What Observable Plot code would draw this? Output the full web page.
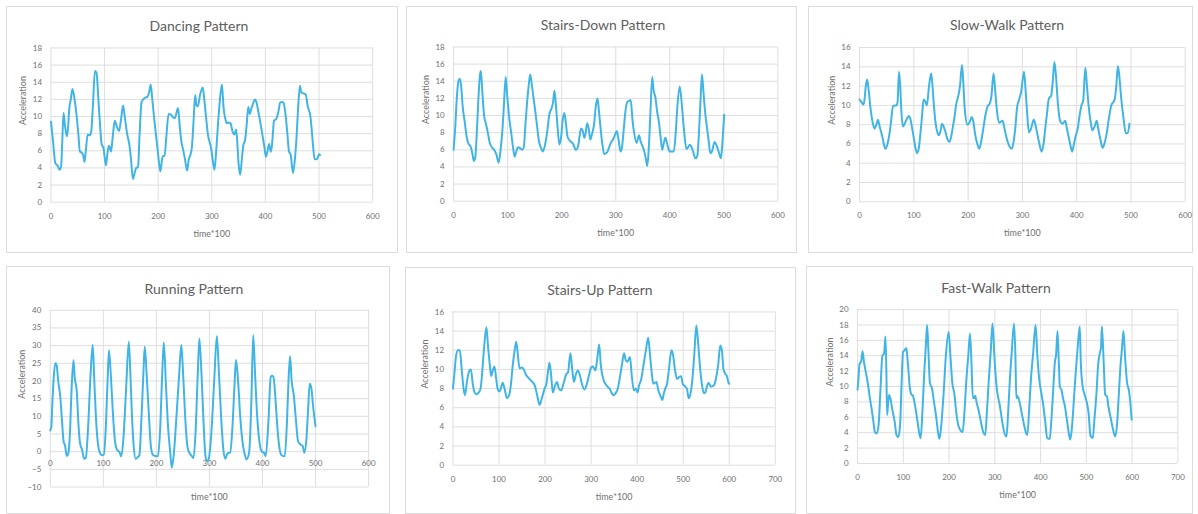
<!DOCTYPE html>
<html><head><meta charset="utf-8">
<script src="https://cdn.jsdelivr.net/npm/d3@7"></script>
<script src="https://cdn.jsdelivr.net/npm/@observablehq/plot@0.6"></script>
<style>
body{margin:0;background:#fff;font-family:Lato,"Open Sans",sans-serif;}
#root{position:relative;width:1198px;height:514px;overflow:hidden;background:#fff;}
.panel{position:absolute;border:1px solid #dcdcdc;box-sizing:border-box;background:#fff;}
.panel svg{position:absolute;left:-1px;top:-1px;overflow:visible;}
.title{position:absolute;white-space:nowrap;font-size:14px;line-height:16px;color:#5e5e5e;transform:translateX(-50%);}
</style></head><body><div id="root"></div>
<script>
// ---------- data (time*100, acceleration) ----------
const titles = ["Dancing Pattern","Stairs-Down Pattern","Slow-Walk Pattern","Running Pattern","Stairs-Up Pattern","Fast-Walk Pattern"];
const yLabel = "Acceleration";
const xLabel = "time*100";
const xTicks600 = [0,100,200,300,400,500,600];
const xTicks700 = [0,100,200,300,400,500,600,700];
const yTicks18 = [0,2,4,6,8,10,12,14,16,18];
const yTicks16 = [0,2,4,6,8,10,12,14,16];
const yTicks20 = [0,2,4,6,8,10,12,14,16,18,20];
const yTicks40 = [-10,-5,0,5,10,15,20,25,30,35,40];

const dancing = [[0,9.4],[4,7],[8,4.6],[12,4.3],[16,3.8],[19,4.2],[21,7],[23.5,10.4],[26,9],[29.5,7.7],[32,8.8],[34,10.8],[37,12],[40,13.2],[44,12],[48,10],[51,8],[54,5.9],[57,5.8],[60,5.5],[62.5,4.7],[65,6],[68.5,7.9],[72,7.8],[75,8.2],[78,11],[82,15.3],[85,15.1],[88,12.5],[91,9.5],[94.5,6.8],[98,6.3],[102.5,4.3],[105,5.5],[108,6.6],[110,6.3],[112,5.9],[115,7.5],[119,9.5],[123,8.8],[127,8.3],[131,9.8],[134.5,11.3],[138,9.8],[142,8],[146,6.8],[149,5.2],[153,2.7],[156,3.4],[159,4],[162.5,4.1],[165,7.5],[169,11.7],[172,12],[176,12.2],[180,12.3],[183,12.8],[186,13.7],[189,12],[193,9.5],[197,7.2],[200,5.5],[204,3.6],[207,4.9],[209,5.4],[212,5.4],[215,7.5],[219.5,10.3],[224,10.2],[228,9.9],[231,9.8],[237,11],[240,9],[243,7.2],[247,6],[250,5],[254,3.7],[257,5],[260,5.5],[263,6.5],[266,9.5],[269,12.5],[271.5,11.3],[274,11.2],[278,12.5],[283,13.4],[286,12],[290,9.5],[293,7.8],[296,7],[299,6.2],[302,4.8],[305,3.8],[308,5.8],[312,9.5],[316,12.5],[319,13.7],[322,11],[325,9.8],[328,9.2],[331,9.3],[335,9.2],[338.5,8.3],[342,7.9],[345.5,8.5],[348,6.5],[350,4.5],[353,3.2],[356,5],[359,6.7],[362,7.2],[365,9],[368,11.1],[371,10.3],[374,11],[377,11.5],[380.5,12],[384,11.5],[387,10.5],[390,9.5],[394,8],[398,6.5],[401,5.3],[404,6],[407,6.8],[410,5.9],[412,6.5],[414,8],[416,9.5],[420,9.7],[424,10.5],[427.5,11.6],[431,11.7],[434,11.6],[437,10.5],[441,8],[444,5.9],[447,5.6],[451.5,3.4],[455,5],[458,7.5],[461,11],[464.5,13.6],[467,12.8],[471,12.7],[475,12.6],[479,11.2],[484,10],[487,8],[489,6.5],[492,5],[495,5],[497,5.1],[500,5.6],[502,5.5]];

const stairsDown = [[0,6],[3,8.5],[6,12],[9,14],[11.5,14.3],[14,13.5],[17,11],[21,9.1],[24,7.6],[27,6.8],[32,6.3],[35,5.5],[37.5,4.7],[40,5],[43,8],[46,12],[49,14.8],[50.5,15.2],[53,13],[56.5,10],[60,9],[64,7.8],[67,6.8],[71,6.3],[75,6],[79,5.5],[83.5,4.5],[87,6],[90,8],[93,11],[96.4,14.5],[99,12.5],[103.8,9.3],[107,7.8],[110,6.3],[113,5.2],[116,5.8],[119,6.3],[123,6.2],[126.6,6],[130,6.3],[133,9],[136,11.5],[139,13.5],[141.7,14.8],[145,13.5],[148,12],[151,10.6],[155,8.5],[158,7],[162,6.2],[165,5.8],[169,6.5],[173,8],[177.4,10.2],[181,10.8],[184,11.5],[186.6,12.9],[189,11.5],[192,9],[195.8,6.6],[199,7.5],[202,9.5],[205,10.3],[208,9],[211,7.5],[216,7],[221,6.7],[226.5,6],[230,6.3],[233,7.5],[235.7,8.5],[239,8.2],[242,7.4],[244.5,8],[247,9.1],[250,8.5],[253,7.2],[256,7.8],[260,9],[263,11],[266.3,12],[269,10.5],[272,8.5],[275,6.8],[278.6,5.5],[284,5.7],[290.8,6.8],[295,7.2],[299,7.8],[301.9,8.2],[305,7.3],[309,5.8],[312,6.5],[315,8.5],[318,10.5],[321.5,11.6],[324.5,11.7],[327.7,11.8],[331,9.5],[334,8],[338.7,6.8],[343,7.7],[346,7],[349,6.5],[352,6],[355,5.2],[358.4,4.1],[361,6],[364,10],[367.5,14.5],[370,13],[373.7,12],[376.5,10.5],[379.8,9.3],[383,7.5],[386,6],[389,6.8],[392,7.4],[396,6.5],[400,5.8],[404,5.8],[407.4,5.8],[411,8],[414,11],[418.5,13.4],[422.8,10.9],[426,8.5],[430.8,6.1],[434,6.3],[437,6.6],[441,6.2],[444,5.6],[447.4,5],[451,5.3],[454,8],[457,12],[459.6,14.8],[462,13],[465.7,10.2],[469,8.5],[472,7],[475,5.6],[478,5.8],[482.9,6.9],[486,6.6],[490.3,5.8],[494.6,5],[497,6.5],[500.6,10.1]];

const slowWalk = [[0,10.6],[3,10.4],[6.8,10.1],[9,10.5],[11.5,12],[14,12.7],[17,11.5],[20,9.8],[23,8.6],[26,7.8],[28,7.6],[31,8],[34,8.5],[37,7.8],[40,7.2],[43,6.5],[45.5,5.8],[47.6,5.5],[51,5.9],[55,7],[58,8.3],[61.6,9.9],[65,10],[68,10],[70,10.3],[72.7,13.5],[75,12],[77,9.5],[80,7.8],[84,8.2],[88,8.7],[91,8.9],[94,8.5],[97,7.6],[100,6.6],[103,5.6],[105.7,5.05],[109,5.5],[112,7],[115,8.8],[118,10.6],[121,10.4],[124,10],[128,12],[132,13.3],[134,12.3],[137,10],[140,8.2],[143,7.3],[146,6.9],[149,7.3],[152,8.1],[155,7.8],[158,7.3],[162,6.5],[165.6,6.2],[169,6.8],[172,7.8],[175,8.8],[178,10.1],[182,11],[185,12],[188.8,14.2],[191,12.5],[194,9.5],[199,8],[203,8.3],[207,8.8],[210,8.2],[213,7],[217,6],[220.6,5.5],[224,6.2],[228,7.6],[232,9],[235.9,9.9],[240,10.2],[243,11],[246.9,13.3],[250,11.5],[253,9.5],[257,8.2],[263.5,8.4],[267,7.6],[271,6.6],[275,5.9],[280.4,5.5],[284,6.3],[287,7.7],[290.5,9.9],[294,10.6],[298,11.5],[303,13.5],[306,11.5],[309,9],[312,7.2],[316,7.6],[321,8.5],[324,8],[327,7.2],[331,6.1],[335.4,5.2],[339,6],[342,7.5],[345,9],[348.8,10.7],[353,11],[356,12.5],[359,14.5],[362,13],[365,10.5],[370,8.3],[374,8.1],[379,8.4],[382,7.6],[385,6.8],[388,6],[391.6,5.2],[395,6],[399,7],[402,7.6],[405,8.8],[408.8,10],[412,10.5],[416,13.9],[419,12],[422,10],[426,8.2],[429,7.4],[433,7.8],[437,8.4],[440,7.5],[444,6.4],[447.9,5.6],[451,6],[455,7],[459,8.5],[463.8,10],[470,10.6],[473,12],[476,14.1],[479,12.8],[482,10.8],[486,8.8],[490.6,7.1],[494,7.1],[497.3,8.1]];

const running = [[0,6],[2,7],[4,14],[6.5,21],[9.4,25],[12,24.5],[15,20],[18.8,15.6],[22,9],[25,3],[28,1.6],[31,-1.2],[34,-0.5],[37,5],[40,17],[43.7,25.9],[46,21],[50,17],[53,8],[56,2.5],[60,0.5],[64,-2],[67,-1.8],[71,6],[76,22],[80,30.2],[83,20],[86,10],[90,2],[94,-0.5],[97,-1],[101,-0.8],[105,8],[108,20],[110.6,28.7],[114,22],[118,11],[122,3],[126,0.5],[130,0],[134,-1.3],[138,4],[143,18],[148,31.1],[151,22],[154,10],[157,2],[161,-2],[165,-1.5],[168,-1],[172,10],[175.5,22],[178,29.7],[182,21],[186,10],[190,1],[194,-1],[198,-1.2],[203,-1.3],[207,6],[211,22],[214,30.9],[218,19],[222,7],[226,0],[229,-4.5],[233,-0.5],[237,8],[243,22],[247,30.2],[251,20],[255,8],[259,1],[263,-0.5],[267,-1.3],[270,-1.8],[274,6],[278,22],[281,32],[285,22],[289,8],[292,-0.5],[295,-2.7],[299,-1.8],[303,4],[309,20],[314,32.7],[318,22],[322,10],[326,1],[330,-2],[334,-0.5],[339,-0.3],[343,6],[347,18],[350,25.9],[354,20],[358,10],[363,2],[367,-1],[370,-2.2],[375,0],[379,14],[382.5,33],[386,22],[390,10],[395,2],[399,0],[403,-0.3],[406,-1.3],[411,8],[415.6,21.2],[418,21.5],[420.6,21.2],[424,16],[428,7],[432,1],[436,-1],[442,-1.3],[446,8],[449,20],[452,27],[455,20],[459,16],[463,9],[467,3],[472,2],[476,1.5],[479,-0.3],[483,4],[486,12],[489,19.2],[492,18],[496,12],[500,7.2]];

const stairsUp = [[0,8],[3,9.5],[7,11.5],[11,12],[15,12],[19,10],[23,8],[26,7.3],[30,8.6],[35,9.8],[39,10],[43,8.5],[47,7.6],[51,7.4],[56,7.6],[60,8],[64,10],[68,12.5],[72.7,14.4],[76,12.5],[80,10.5],[83,9.3],[86,9.8],[90,10.3],[94,9],[97,8],[101,7.7],[104,8],[108,8.6],[112,8],[117.4,7],[122,7.3],[126,8.5],[130,10.5],[134,12],[137.4,12.9],[141,11.5],[144.6,10.1],[149,10.2],[154,10],[158,9.5],[162.6,9.2],[170,8.8],[177,8.4],[182,7.5],[185,6.8],[188,6.3],[192,6.8],[196,7.5],[199,8],[203,8.5],[207,10],[209.6,10.7],[213,9.5],[216.8,7.6],[221,8.2],[226,8.7],[230,8],[235,7.8],[240,8.5],[246,9.5],[250,9.7],[255,11.7],[259,10],[262.6,8.7],[267,9.5],[271.2,9.9],[275,9.5],[280,8.5],[285.6,7.9],[291,8.5],[296,9.5],[300,10.2],[304,10.3],[309.4,9.9],[313,11],[317.6,12.6],[321,10.5],[327,8.9],[331,8.5],[335.6,8.2],[340,8],[344,7.6],[348.5,7.3],[353,7.5],[358,8],[363,9.3],[367,10.5],[371.6,11.7],[375,11],[378.8,10.8],[384.5,11.3],[388,9.5],[393,7.8],[397,8],[401,7.6],[404,8.3],[409,9],[414,10.5],[419,12],[424,13.3],[428,11.5],[432,9.5],[435,8.5],[438.5,8.6],[442,8.7],[446,7.8],[451,7.2],[454.4,6.8],[458,7.5],[461,8],[465,8.5],[469,10],[474.5,12],[478,11.5],[482,10],[486.8,9],[491,9.2],[495.5,9.3],[499,8.5],[502.7,8.3],[508,8],[512,7],[516,7.5],[520,9],[524,11.5],[528.5,14.6],[532,13],[537,10],[541,8.3],[545,7.5],[548,7.6],[552,8.3],[555,8.6],[560,8.2],[566,8.3],[571,9],[576,10.5],[580.4,12.5],[584,12],[587.6,10],[592,9.5],[595,9.3],[598.4,8.6],[600,8.5]];

const fastWalk = [[0,9.6],[2,11],[4.3,12.9],[8,13.3],[11,14.6],[14,13.2],[18,11.9],[23,10.2],[27,8.5],[31,7],[35,5.3],[37.8,4.1],[42,3.9],[46,5],[50,9.5],[54.3,14],[58,14.3],[61,16.5],[63,12],[64.6,6.3],[67,8],[69,8.9],[72,8.4],[76,7],[81,5.5],[85,3.7],[89,3.4],[93,5],[96,10],[99.4,14.5],[103,14.7],[106.6,15],[110,13],[114,10],[117.5,9],[121,8.8],[126,7.4],[131,5.5],[135.6,3.7],[138,3.3],[142,7],[146,12],[149,15],[152,18],[155,14.5],[158,10.5],[163,9.7],[167,8],[172,6],[176,4],[179,3.2],[183,5],[188,9],[193,14],[199,17.1],[203,14],[207,10.5],[211.5,9.1],[216,6.5],[220,5],[225,4.3],[229.6,4.1],[234,7],[238,11],[242,14],[245.7,16.9],[249,13],[252,8.5],[255,8.5],[257,8.8],[260,8],[266,6.5],[271,5],[275,4],[279,3.7],[283,7],[287,11],[291,14.5],[295,18.2],[299,14],[303,10.5],[306,9],[311,7.5],[316,5.5],[320,4.2],[325.5,3.5],[329,6.5],[333,11],[337,14.5],[342,18.2],[345,14],[347,8.5],[349,8.8],[354,8],[359,6.5],[364,5],[368,4],[371,3.7],[375,7],[379,11],[384,14.5],[389,18],[393,14],[397,11],[402,9],[406,7.5],[410,5.5],[414.6,3.3],[420,3.2],[424,6],[428,10],[431,13],[434,14.2],[437,17.2],[440,13],[442,10],[443.5,9.8],[446,9.5],[449,8.5],[453,7.5],[458,5.5],[462,3.8],[465,3.1],[469,5],[473,8.5],[477,12],[481,15],[485.6,17.8],[488,13],[492,10],[496,9],[500,8.2],[505,6.5],[509,3.6],[514,3.3],[518,6],[522,9],[526,13],[530,14.5],[532,15],[534,17.8],[538,13],[541,9],[543,8.8],[545,8.8],[548,7.5],[553,6],[558,4.5],[563,3.5],[567,5],[571,9],[575,13],[578,15],[581,17.2],[585,13.5],[589,10.5],[593,9.5],[596,8],[599,5.7]];

// ---------- layout (pixel boxes; not data) ----------
const panels = [
  {title: titles[0], data: dancing,    box:[6,6,398,253],    plot:[50.7,374,47.7,202.7],   titleX:198,  titleY:25,  xMax:600, xTicks:xTicks600, yDomain:[0,18],   yTicks:yTicks18, xlabDy:32, tickDy:14},
  {title: titles[1], data: stairsDown, box:[406,6,797,253],  plot:[453.3,779.3,46.7,201.7],titleX:602,  titleY:24,  xMax:600, xTicks:xTicks600, yDomain:[0,18],   yTicks:yTicks18, xlabDy:32, tickDy:14},
  {title: titles[2], data: slowWalk,   box:[808,6,1193,253], plot:[859.3,1186.7,47.3,202.3],titleX:1006,titleY:24,  xMax:600, xTicks:xTicks600, yDomain:[0,16],   yTicks:yTicks16, xlabDy:32, tickDy:14},
  {title: titles[3], data: running,    box:[6,266,390,514],  plot:[50,370,310,487.7],      titleX:193,  titleY:288, xMax:600, xTicks:xTicks600, yDomain:[-10,40], yTicks:yTicks40, xlabDy:10, tickDy:12},
  {title: titles[4], data: stairsUp,   box:[405,267,796,514],plot:[452.7,776.7,311.7,465.7],titleX:599, titleY:289, xMax:700, xTicks:xTicks700, yDomain:[0,16],   yTicks:yTicks16, xlabDy:32, tickDy:14},
  {title: titles[5], data: fastWalk,   box:[806,266,1193,514],plot:[857.3,1179.3,309.3,464],titleX:995, titleY:287, xMax:700, xTicks:xTicks700, yDomain:[0,20],   yTicks:yTicks20, xlabDy:32, tickDy:14}
];

const root = document.getElementById("root");
const GRID = "#dedede", TXT = "#707070", LINE = "#40b5e5";

for (const p of panels) {
  const [bl, bt, br, bb] = p.box;
  const [px0, px1, py0, py1] = p.plot;
  const div = document.createElement("div");
  div.className = "panel";
  Object.assign(div.style, {left: bl + "px", top: bt + "px", width: (br - bl) + "px", height: (bb - bt) + "px"});
  const W = br - bl, H = bb - bt;
  const chart = Plot.plot({
    width: W, height: H,
    marginLeft: px0 - bl, marginRight: br - px1, marginTop: py0 - bt, marginBottom: bb - py1,
    x: {domain: [0, p.xMax], axis: null},
    y: {domain: p.yDomain, axis: null},
    style: {fontFamily: "Lato, 'Open Sans', sans-serif", fontSize: "8px", color: TXT, background: "transparent", overflow: "visible"},
    marks: [
      Plot.gridX(p.xTicks, {stroke: GRID, strokeOpacity: 1, strokeWidth: 1}),
      Plot.gridY(p.yTicks, {stroke: GRID, strokeOpacity: 1, strokeWidth: 1}),
      Plot.axisY(p.yTicks, {tickSize: 0, tickPadding: 9, fill: TXT, label: null}),
      Plot.text(p.xTicks, {x: d => d, y: 0, dy: p.tickDy, fill: TXT, fontSize: 8}),
      Plot.text([yLabel], {frameAnchor: "left", rotate: -90, dx: -28, fill: TXT, fontSize: 9}),
      Plot.text([xLabel], {frameAnchor: "bottom", dy: p.xlabDy, fill: TXT, fontSize: 9, lineAnchor: "middle"}),
      Plot.line(p.data, {x: d => d[0], y: d => d[1], stroke: LINE, strokeWidth: 2, curve: "monotone-x"})
    ]
  });
  div.appendChild(chart);
  const t = document.createElement("div");
  t.className = "title";
  t.textContent = p.title;
  Object.assign(t.style, {left: (p.titleX - bl) + "px", top: (p.titleY - bt - 8) + "px"});
  div.appendChild(t);
  root.appendChild(div);
}
</script></body></html>
